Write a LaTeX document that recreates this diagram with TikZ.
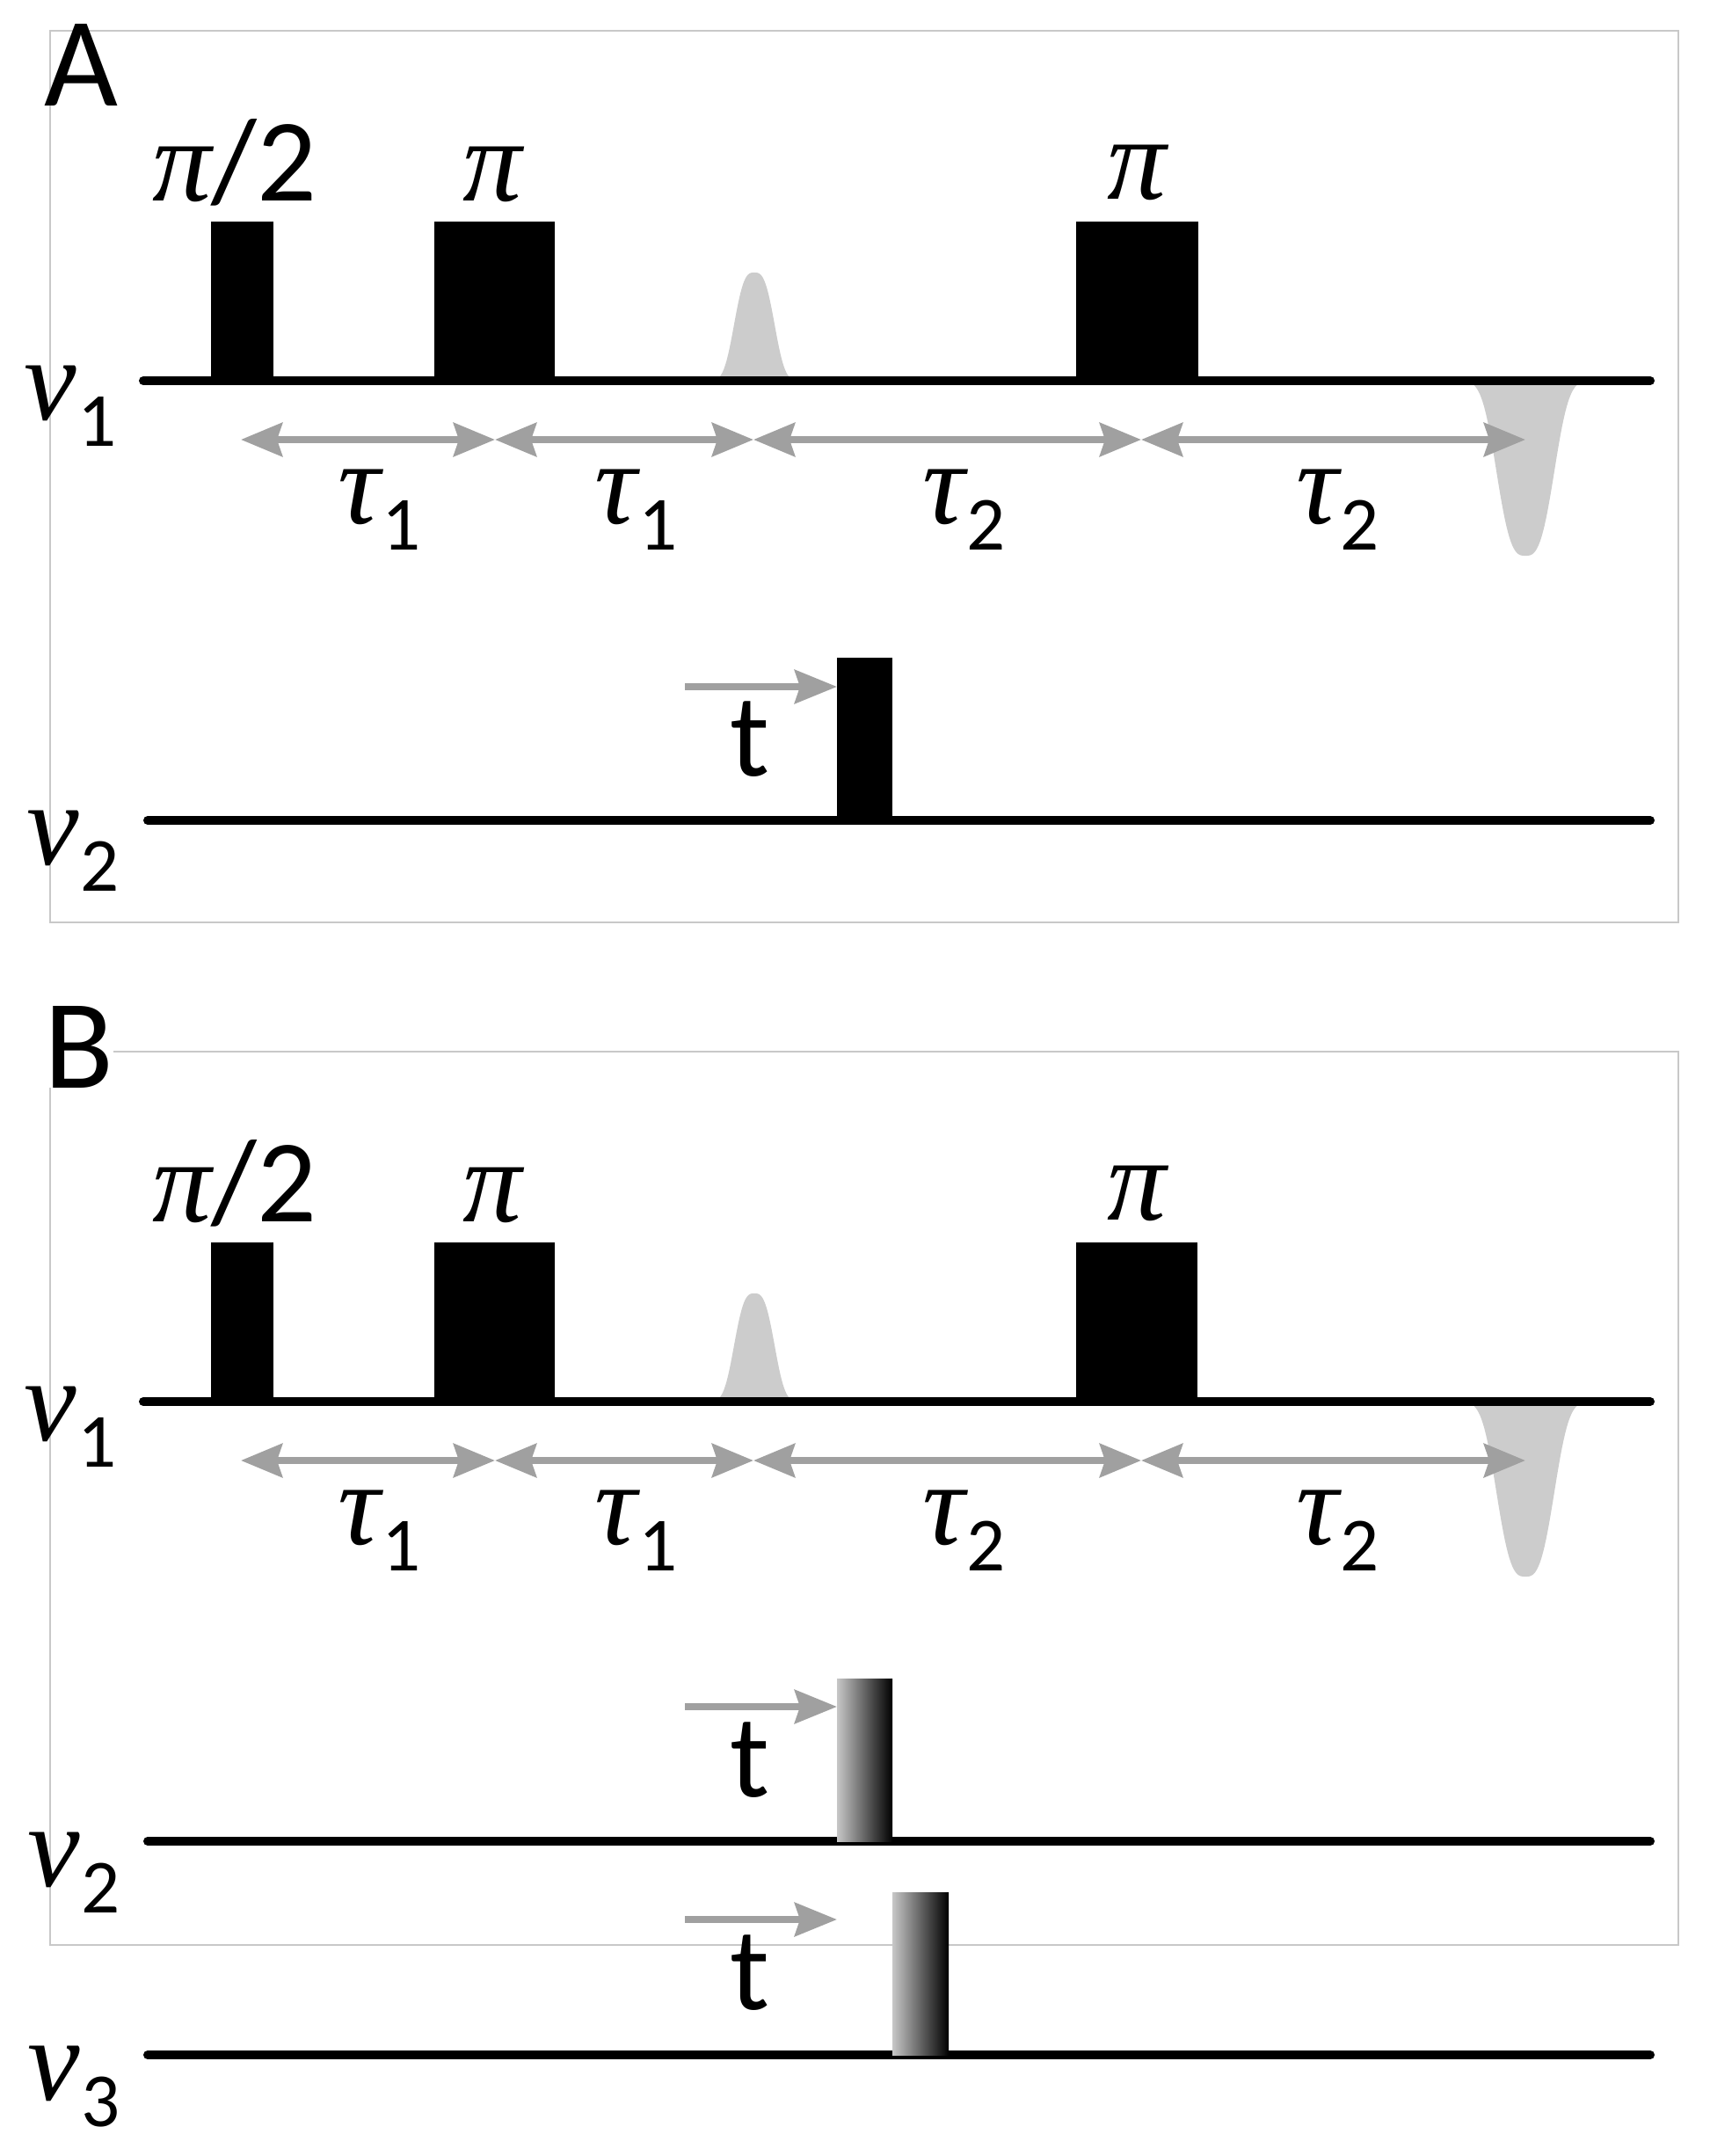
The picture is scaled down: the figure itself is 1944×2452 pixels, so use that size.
\documentclass[tikz,border=0pt]{standalone}
\usepackage{fontspec}
\setmainfont{Carlito}
\newfontfamily\grkfont{Liberation Serif}
\usetikzlibrary{arrows.meta}
\definecolor{arrowgray}{RGB}{160,160,160}
\definecolor{echogray}{RGB}{204,204,204}
\definecolor{framegray}{RGB}{200,200,200}
\newcommand{\gk}[1]{{\grkfont\itshape #1}}
\newcommand{\lowsub}[1]{\hspace{2pt}\raisebox{-30pt}{\fontsize{87}{100}\selectfont #1}}

\begin{document}
\begin{tikzpicture}[x=1pt,y=1pt,yscale=-1,
    frame/.style={draw=framegray,line width=2.5},
    seqline/.style={line width=10,line cap=round},
    rfpulse/.style={fill=black},
    gradpulse/.style={left color=black!22,right color=black},
    echo/.style={fill=echogray},
    delay/.style={arrowgray,line width=8,{Stealth[length=47,width=38,inset=6]}-{Stealth[length=47,width=38,inset=6]}},
    shiftarrow/.style={arrowgray,line width=8,-{Stealth[length=48,width=38,inset=6]}},
    txt/.style={inner sep=0pt,font=\fontsize{134}{160}\selectfont},
    panel/.style={inner sep=0pt,font=\fontsize{145}{170}\selectfont}]
        \useasboundingbox (0,0) rectangle (1944,2452);

        %Panel frames
        \draw [frame] (57,35) rectangle (1909,1049);
        \draw [frame] (57,1196) rectangle (1909,2212);

        %Shape: Echoes [panel A]
        \fill [echo] plot [domain=-2.2:2.2,samples=89] ({858+23.5*\x},{433-123*exp(-0.693*abs(\x)^3)}) -- cycle;
        \fill [echo] plot [domain=-2.2:2.2,samples=89] ({1735+33.5*\x},{433+199*exp(-0.693*abs(\x)^3)}) -- cycle;
        %Shape: Echoes [panel B]
        \fill [echo] plot [domain=-2.2:2.2,samples=89] ({858+23.5*\x},{1594-123*exp(-0.693*abs(\x)^3)}) -- cycle;
        \fill [echo] plot [domain=-2.2:2.2,samples=89] ({1735+33.5*\x},{1594+199*exp(-0.693*abs(\x)^3)}) -- cycle;

        %Straight Lines: channels
        \draw [seqline] (163,433) -- (1877,433);
        \draw [seqline] (168,933) -- (1877,933);
        \draw [seqline] (163,1594) -- (1877,1594);
        \draw [seqline] (168,2094) -- (1877,2094);
        \draw [seqline] (168,2337) -- (1877,2337);

        %Shape: Rectangle pulses [panel A]
        \fill [rfpulse] (240,252) rectangle (311,433);
        \fill [rfpulse] (494,252) rectangle (631,433);
        \fill [rfpulse] (1224,252) rectangle (1363,433);
        \fill [rfpulse] (952,748) rectangle (1015,933);
        %Shape: Rectangle pulses [panel B]
        \fill [rfpulse] (240,1413) rectangle (311,1594);
        \fill [rfpulse] (494,1413) rectangle (631,1594);
        \fill [rfpulse] (1224,1413) rectangle (1362,1594);
        \shade [gradpulse] (952,1909) rectangle (1015,2094);
        \shade [gradpulse] (1015,2152) rectangle (1079,2337);

        %Delay points
        \coordinate (dA0) at (274,500);
        \coordinate (dA1) at (563,500);
        \coordinate (dA2) at (857,500);
        \coordinate (dA3) at (1298,500);
        \coordinate (dA4) at (1735,500);
        \coordinate (dB0) at (274,1661);
        \coordinate (dB1) at (563,1661);
        \coordinate (dB2) at (857,1661);
        \coordinate (dB3) at (1298,1661);
        \coordinate (dB4) at (1735,1661);
        \draw [delay] (dA0) -- (dA1);
        \draw [delay] (dA1) -- (dA2);
        \draw [delay] (dA2) -- (dA3);
        \draw [delay] (dA3) -- (dA4);
        \draw [delay] (dB0) -- (dB1);
        \draw [delay] (dB1) -- (dB2);
        \draw [delay] (dB2) -- (dB3);
        \draw [delay] (dB3) -- (dB4);

        %Pulse shift arrows
        \coordinate (sA2) at (779,781);
        \coordinate (eA2) at (952,781);
        \coordinate (sB2) at (779,1941);
        \coordinate (eB2) at (952,1941);
        \coordinate (sB3) at (779,2183);
        \coordinate (eB3) at (952,2183);
        \draw [shiftarrow] (sA2) -- (eA2);
        \draw [shiftarrow] (sB2) -- (eB2);
        \draw [shiftarrow] (sB3) -- (eB3);

        % Text Node
        \node [panel,anchor=base west] (labA) at (50,120) {A};
        \node [panel,anchor=base west,fill=white] (labB) at (50,1237) {B};
        % Text Node: pulse angles
        \node [txt,anchor=base] (angA1) at (267,228) {\gk{π}/2};
        \node [txt,anchor=base] (angA2) at (560,228) {\gk{π}};
        \node [txt,anchor=base] (angA3) at (1293,226) {\gk{π}};
        \node [txt,anchor=base] (angB1) at (267,1389) {\gk{π}/2};
        \node [txt,anchor=base] (angB2) at (560,1389) {\gk{π}};
        \node [txt,anchor=base] (angB3) at (1293,1387) {\gk{π}};
        % Text Node: channels
        \node [txt,anchor=base west] (nuA1) at (27,477) {\gk{ν}\lowsub{1}};
        \node [txt,anchor=base west] (nuA2) at (30,983) {\gk{ν}\lowsub{2}};
        \node [txt,anchor=base west] (nuB1) at (27,1638) {\gk{ν}\lowsub{1}};
        \node [txt,anchor=base west] (nuB2) at (31,2145) {\gk{ν}\lowsub{2}};
        \node [txt,anchor=base west] (nuB3) at (31,2388) {\gk{ν}\lowsub{3}};
        % Text Node: delays
        \node [txt,anchor=base west] (tauA1) at (384,595) {\gk{τ}\lowsub{1}};
        \node [txt,anchor=base west] (tauA2) at (676,595) {\gk{τ}\lowsub{1}};
        \node [txt,anchor=base west] (tauA3) at (1049,595) {\gk{τ}\lowsub{2}};
        \node [txt,anchor=base west] (tauA4) at (1474,595) {\gk{τ}\lowsub{2}};
        \node [txt,anchor=base west] (tauB1) at (384,1756) {\gk{τ}\lowsub{1}};
        \node [txt,anchor=base west] (tauB2) at (676,1756) {\gk{τ}\lowsub{1}};
        \node [txt,anchor=base west] (tauB3) at (1049,1756) {\gk{τ}\lowsub{2}};
        \node [txt,anchor=base west] (tauB4) at (1474,1756) {\gk{τ}\lowsub{2}};
        % Text Node: shift labels
        \node [txt,anchor=base] (tA2) at (853,882) {t};
        \node [txt,anchor=base] (tB2) at (853,2043) {t};
        \node [txt,anchor=base] (tB3) at (853,2285) {t};
\end{tikzpicture}
\end{document}
